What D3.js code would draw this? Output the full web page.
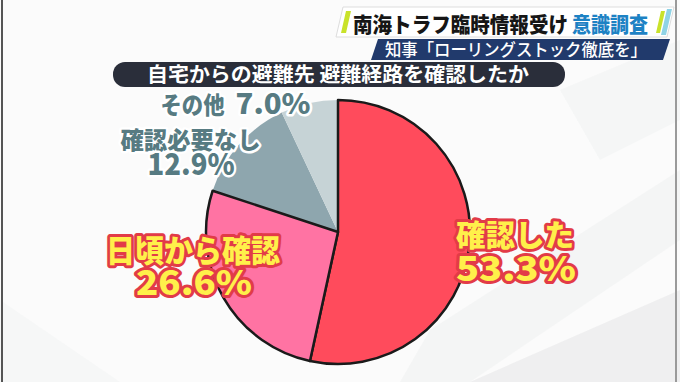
<!DOCTYPE html>
<html>
<head>
<meta charset="utf-8">
<script src="https://cdn.jsdelivr.net/npm/d3@7"></script>
<style>
  html, body { margin: 0; padding: 0; background: #fafafa; }
  svg { display: block; }
  text { font-family: "Noto Sans CJK JP", "Noto Sans", sans-serif; }
</style>
</head>
<body>
<svg class="piechart" width="680" height="382"></svg>
<script>
// chart data
var categories = ["確認した", "日頃から確認", "確認必要なし", "その他"];
var values = [53.3, 26.6, 12.9, 7.0];
var valueLabels = ["53.3%", "26.6%", "12.9%", "7.0%"];
var titleMain = "南海トラフ臨時情報受け";
var titleAccent = "意識調査";
var subTitle = "知事「ローリングストック徹底を」";
var question = "自宅からの避難先 避難経路を確認したか";

(function pieChartIIFE(){
    var svg = d3.select("svg.piechart"),
        width = +svg.attr("width"),
        height = +svg.attr("height");

    var sliceColours = ["#ff4b5c", "#ff73a3", "#8ea6ae", "#c6d3d6"];
    var outlined = [true, true, false, false];

    // background with soft grey shapes
    svg.append("rect").attr("width", width).attr("height", height).attr("fill", "#fbfbfb");
    var bg = svg.append("g").attr("fill", "#e9eaeb");
    bg.append("path").attr("d", "M470,382 L680,290 L680,382 Z").attr("opacity", 0.7);
    bg.append("path").attr("d", "M430,330 L680,170 L680,240 L470,382 L400,382 Z").attr("opacity", 0.35);
    bg.append("path").attr("d", "M560,90 L680,40 L680,120 L600,160 Z").attr("opacity", 0.3);
    bg.append("path").attr("d", "M0,300 L120,382 L0,382 Z").attr("opacity", 0.25);
    svg.append("line").attr("x1", 2).attr("x2", 2).attr("y1", 0).attr("y2", height)
        .attr("stroke", "#555").attr("stroke-width", 2);
    svg.append("line").attr("x1", 676).attr("x2", 676).attr("y1", 0).attr("y2", height)
        .attr("stroke", "#9a9a9a").attr("stroke-width", 2);

    // headline banners
    var head = svg.append("g");
    head.append("path").attr("d", "M343,7 L674,7 L667,37 L336,37 Z").attr("fill", "#ffffff")
        .attr("stroke", "#dddddd");
    head.append("path").attr("d", "M346,11 L351,11 L346,33 L341,33 Z").attr("fill", "#c9e22a");
    head.append("path").attr("d", "M661,11 L665,11 L660,33 L656,33 Z").attr("fill", "#c9e22a");
    head.append("path").attr("d", "M667,9 L672,9 L666,35 L661,35 Z").attr("fill", "#8fd3e6");
    var t1 = head.append("text").attr("y", 32)
        .attr("font-size", 21).attr("font-weight", 900);
    t1.append("tspan").attr("x", 353).attr("fill", "#161616")
        .attr("textLength", 215).attr("lengthAdjust", "spacingAndGlyphs")
        .text(titleMain);
    t1.append("tspan").attr("x", 572).attr("fill", "#1d82c4")
        .attr("textLength", 76).attr("lengthAdjust", "spacingAndGlyphs")
        .text(titleAccent);
    head.append("path").attr("d", "M378,39 L670,39 L663,60 L371,60 Z").attr("fill", "#213a6c");
    head.append("text").attr("x", 385).attr("y", 56).attr("fill", "#ffffff")
        .attr("font-size", 17).attr("font-weight", 500)
        .attr("textLength", 262).attr("lengthAdjust", "spacingAndGlyphs")
        .text(subTitle);

    // question bar
    svg.append("rect").attr("x", 113).attr("y", 62).attr("width", 452).attr("height", 25)
        .attr("rx", 12).attr("fill", "#2a2e3a");
    svg.append("text").attr("x", 147).attr("y", 82).attr("fill", "#ffffff")
        .attr("font-size", 20).attr("font-weight", 700)
        .attr("textLength", 382).attr("lengthAdjust", "spacingAndGlyphs")
        .text(question);

    // pie
    var cx = 338, cy = 232, radius = 132;
    var data = categories.map(function(c, i) {
        return {category: c, value: values[i], label: valueLabels[i], i: i};
    });
    var pie = d3.pie().sort(null).value(function(d) { return d.value; });
    var arc = d3.arc().innerRadius(0).outerRadius(radius);
    var arcs = pie(data);

    var g = svg.append("g").attr("transform", "translate(" + cx + "," + cy + ")");
    // unoutlined slices first so the black edges sit on top
    var order = arcs.slice().sort(function(a, b) {
        return (outlined[a.data.i] ? 1 : 0) - (outlined[b.data.i] ? 1 : 0);
    });
    g.selectAll("path.slice")
        .data(order)
        .enter().append("path")
        .attr("class", "slice")
        .attr("d", arc)
        .attr("fill", function(d) { return sliceColours[d.data.i]; })
        .attr("stroke", function(d) { return outlined[d.data.i] ? "#1a1a1a" : "none"; })
        .attr("stroke-width", 2.5)
        .attr("stroke-linejoin", "round");

    // labels: [x, baseline, width, font size] for name and value
    var labelLayout = [
        {name: [453, 249, 124, 30], val: [453, 284, 126, 34], style: "warm"},
        {name: [103, 265, 180, 31], val: [133, 298, 122, 34], style: "warm"},
        {name: [118, 151, 145, 24], val: [145, 177, 92, 30], style: "cool"},
        {name: [158, 116, 69, 24], val: [233, 116, 80, 28], style: "cool"}
    ];
    var styles = {
        warm: {fill: "#fff04a", stroke: "#e23b48", sw: 6},
        cool: {fill: "#577b82", stroke: "#ffffff", sw: 5}
    };

    var labels = svg.append("g");
    data.forEach(function(d, i) {
        var L = labelLayout[i], s = styles[L.style];
        var t = labels.append("text")
            .attr("font-weight", 900)
            .attr("fill", s.fill)
            .attr("stroke", s.stroke)
            .attr("stroke-width", s.sw)
            .attr("stroke-linejoin", "round")
            .attr("paint-order", "stroke");
        [[d.category, L.name], [d.label, L.val]].forEach(function(p) {
            t.append("tspan")
                .attr("x", p[1][0] + s.sw / 2)
                .attr("y", p[1][1] - s.sw / 2)
                .attr("font-size", p[1][3])
                .attr("textLength", p[1][2] - s.sw)
                .attr("lengthAdjust", "spacingAndGlyphs")
                .text(p[0]);
        });
    });
})();
</script>
</body>
</html>
